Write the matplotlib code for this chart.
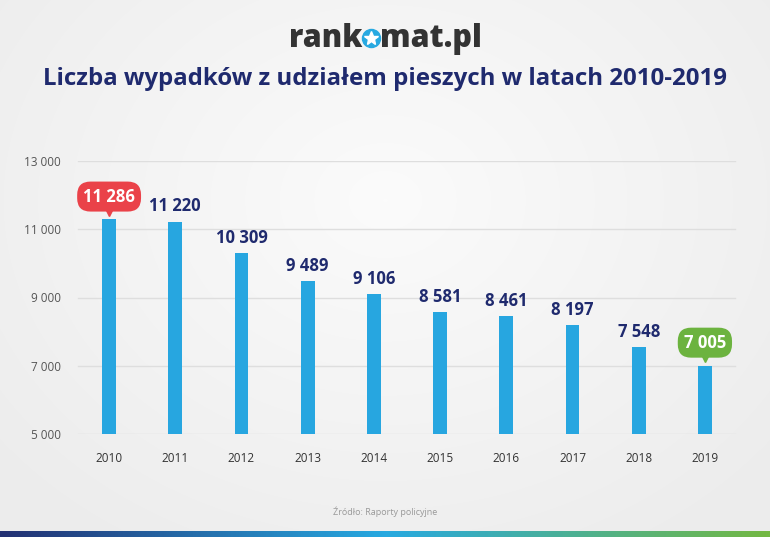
import matplotlib
matplotlib.use('Agg')
import matplotlib.pyplot as plt
import matplotlib.transforms as mtrans
import numpy as np
from matplotlib.colors import LinearSegmentedColormap

plt.rcParams['font.family'] = ['Open Sans', 'DejaVu Sans']

years = ['2010', '2011', '2012', '2013', '2014', '2015', '2016', '2017', '2018', '2019']
accidents = [11286, 11220, 10309, 9489, 9106, 8581, 8461, 8197, 7548, 7005]
yticks = [5000, 7000, 9000, 11000, 13000]

navy = '#1f2a6e'
bar_col = '#27a6e0'
red = '#ea4249'
green = '#6cb33f'


def fmt(v):
    return '{:,}'.format(v).replace(',', ' ')


fig = plt.figure(figsize=(7.7, 5.37), dpi=100)

# background with soft light glow
bg = fig.add_axes([0, 0, 1, 1], zorder=-10)
yy, xx = np.mgrid[0:537, 0:770]
r = np.sqrt(((xx - 385) / 520.0) ** 2 + ((yy - 200) / 420.0) ** 2)
bg.imshow(1 - np.clip(r, 0, 1), cmap=LinearSegmentedColormap.from_list('bg', ['#ececec', '#fbfbfb']),
          aspect='auto', extent=[0, 1, 0, 1])
bg.set_xlim(0, 1)
bg.set_ylim(0, 1)
bg.axis('off')

# bottom gradient stripe
strip = fig.add_axes([0, 0, 1, 6 / 537.0], zorder=-5)
strip.imshow(np.linspace(0, 1, 300)[None, :], aspect='auto',
             cmap=LinearSegmentedColormap.from_list('st', ['#233173', '#27a9e1', '#73b843']))
strip.axis('off')

ax = fig.add_axes([76 / 770.0, 103 / 537.0, 662 / 770.0, 273 / 537.0])
ax.patch.set_alpha(0)
x = np.arange(len(years))
ax.bar(x, accidents, width=0.21, color=bar_col, zorder=3)
ax.set_xlim(-0.5, len(years) - 0.5)
ax.set_ylim(5000, 13000)
ax.set_yticks(yticks)
ax.set_yticklabels([fmt(v) for v in yticks], fontsize=8.5, color='#555555')
ax.set_xticks(x)
ax.set_xticklabels(years, fontsize=8.5, color='#333333')
ax.tick_params(length=0)
ax.tick_params(axis='y', pad=11)
ax.tick_params(axis='x', pad=13)
for v in yticks:
    ax.axhline(v, color='#dedede', lw=1, zorder=1, xmin=0.003, xmax=0.995)
for s in ax.spines.values():
    s.set_visible(False)

for i, v in enumerate(accidents):
    if i == 0 or i == len(accidents) - 1:
        col = red if i == 0 else green
        ax.annotate(fmt(v), (i, v), xytext=(0, 16.5), textcoords='offset points',
                    ha='center', va='center', fontsize=12, fontweight='bold', color='white',
                    bbox=dict(boxstyle='round,pad=0.36,rounding_size=0.8', fc=col, ec='none'),
                    zorder=5)
        ax.plot([i], [v], marker='v', ms=7, color=col, zorder=4, clip_on=False,
                transform=ax.transData + mtrans.ScaledTranslation(0, 6 / 72.0, fig.dpi_scale_trans))
    else:
        ax.annotate(fmt(v), (i, v), xytext=(0, 11), textcoords='offset points',
                    ha='center', va='center', fontsize=12, fontweight='bold', color=navy)

# logo
logo_ax = fig.add_axes([0, 0, 1, 1], zorder=2)
logo_ax.set_xlim(0, 770)
logo_ax.set_ylim(537, 0)
logo_ax.axis('off')
logo_ax.text(362, 39, 'rank', ha='right', va='center', fontsize=22, fontweight='heavy', color='#333333')
logo_ax.plot([371], [38], marker='o', ms=13, color='#27a9e1')
logo_ax.plot([371], [38], marker='*', ms=10, color='white')
logo_ax.text(380, 39, 'mat.pl', ha='left', va='center', fontsize=22, fontweight='heavy', color='#333333')

fig.text(385 / 770.0, 1 - 79 / 537.0, 'Liczba wypadków z udziałem pieszych w latach 2010-2019',
         ha='center', va='center', fontsize=17.3, fontweight='bold', color=navy)
fig.text(385 / 770.0, 1 - 512 / 537.0, 'Źródło: Raporty policyjne', ha='center', va='center',
         fontsize=6.5, color='#999999')

fig.savefig('out.png', dpi=100)
